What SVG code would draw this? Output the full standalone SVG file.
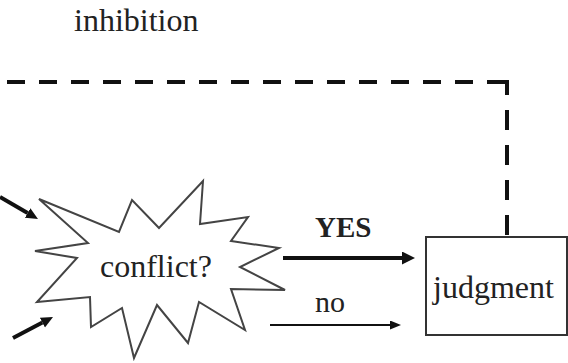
<svg xmlns="http://www.w3.org/2000/svg" width="568" height="363" viewBox="0 0 568 363">
<style>
.t{font-family:"Liberation Serif","Times New Roman",serif;fill:#222}
.dash{fill:none;stroke:#111;stroke-width:4}
.ln{stroke:#111;fill:none}
</style>
<defs>
<marker id="big" markerUnits="userSpaceOnUse" markerWidth="14" markerHeight="14" refX="0" refY="6.5" orient="auto"><path d="M0,0 L13,6.5 L0,13 z" fill="#111"/></marker>
<marker id="mid" markerUnits="userSpaceOnUse" markerWidth="13" markerHeight="13" refX="0" refY="5.5" orient="auto"><path d="M0,0 L12,5.5 L0,11 z" fill="#111"/></marker>
<marker id="small" markerUnits="userSpaceOnUse" markerWidth="12" markerHeight="10" refX="0" refY="4.5" orient="auto"><path d="M0,0 L11,4.5 L0,9 z" fill="#111"/></marker>
</defs>
<rect width="568" height="363" fill="#fff"/>
<g id="inhibition-label"><text class="t" x="74" y="31" font-size="32">inhibition</text></g>
<g id="conflict">
<polygon points="39,199 119,232 132,200 159,228 203,181 200,224 248,217 231,241 279,248 240,267 285,290 231,289 245,330 199,302 188,343 157,305 134,358 122,308 91,327 90,297 37,302 77,258 35,251 88,243" fill="#fff" stroke="#444" stroke-width="2" stroke-linejoin="miter"/>
<text class="t" x="100" y="277" font-size="32">conflict?</text>
</g>
<g id="judgment">
<rect x="426" y="237" width="141" height="98" fill="#fff" stroke="#333" stroke-width="2"/>
<text class="t" x="433" y="298" font-size="32">judgment</text>
</g>
<g id="connectors">
<path class="dash" d="M473,82 H0" stroke-dasharray="18 14"/>
<path class="dash" d="M487,82 H507 V95"/>
<path class="dash" d="M507,110 V237" stroke-dasharray="20 15"/>
<line class="ln" x1="283" y1="258" x2="402" y2="258" stroke-width="4" marker-end="url(#big)"/>
<line class="ln" x1="270" y1="325" x2="390" y2="325" stroke-width="2" marker-end="url(#small)"/>
<line class="ln" x1="0" y1="197" x2="27.6" y2="213" stroke-width="4" marker-end="url(#mid)"/>
<line class="ln" x1="13" y1="338" x2="42.4" y2="322.6" stroke-width="4" marker-end="url(#mid)"/>
<text class="t" x="315" y="237" font-size="29" font-weight="bold">YES</text>
<text class="t" x="315" y="312" font-size="30">no</text>
</g>
</svg>
